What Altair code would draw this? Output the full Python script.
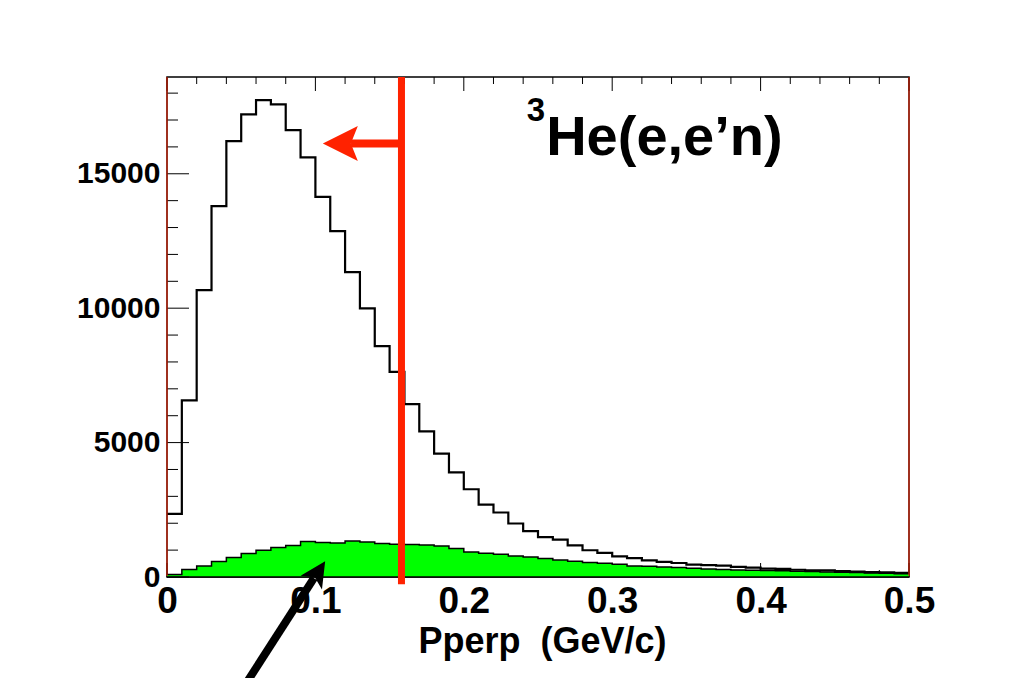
import altair as alt
import numpy as np
import pandas as pd

# ---- data ----
bin_edges = np.round(np.arange(51) * 0.01, 2)  # 50 bins, width 0.01 GeV/c
all_counts = [2350, 6570, 10670, 13800, 16215, 17210, 17740, 17580, 16625, 15610,
              14140, 12870, 11340, 9990, 8590, 7630, 6430, 5420, 4590, 3890,
              3265, 2695, 2400, 1990, 1710, 1480, 1390, 1180, 995, 895,
              770, 705, 620, 560, 520, 460, 440, 425, 375, 350,
              315, 305, 270, 250, 245, 215, 200, 180, 175, 155]
green_counts = [90, 275, 410, 573, 722, 871, 994, 1094, 1169, 1318,
                1280, 1265, 1340, 1303, 1243, 1217, 1210, 1190, 1154, 1057,
                930, 882, 845, 782, 744, 685, 633, 584, 536, 510,
                473, 409, 398, 372, 350, 324, 300, 275, 265, 250,
                240, 230, 215, 200, 190, 178, 165, 150, 140, 125]

x_tick_labels = [0, 0.1, 0.2, 0.3, 0.4, 0.5]
x_minor_ticks = [0.02, 0.04, 0.06, 0.08, 0.12, 0.14, 0.16, 0.18, 0.22, 0.24, 0.26, 0.28,
                 0.32, 0.34, 0.36, 0.38, 0.42, 0.44, 0.46, 0.48]
y_tick_labels = [0, 5000, 10000, 15000]
y_minor_ticks = [1000, 2000, 3000, 4000, 6000, 7000, 8000, 9000, 11000, 12000, 13000,
                 14000, 16000, 17000, 18000]

cut_value = 0.158          # red cut line
red_arrow_x = [0.158, 0.124]
red_arrow_y = 16130
red_head = [0.1168, 16130]
black_arrow = [0.0505, -4200, 0.0990, -40]
black_head = [0.1019, 190]

title_main = "He(e,e\u2019n)"
title_sup = "3"
title_pos = [0.2555, 15694]
sup_pos = [0.2425, 16960]

FONT = "Liberation Sans"
RED = "#ff2200"
GREEN = "#00ff00"

hist = pd.DataFrame({
    "x": bin_edges,
    "all": all_counts + [all_counts[-1]],
    "green": green_counts + [green_counts[-1]],
})

xs = alt.Scale(domain=[0, 0.5], nice=False, zero=False)
ys = alt.Scale(domain=[0, 18600], nice=False)

x_axis = alt.Axis(values=x_tick_labels, labelExpr="datum.value == 0 ? '0' : format(datum.value, '.1f')",
                  labelFont=FONT, labelFontSize=37, labelFontWeight="bold", labelColor="black",
                  labelPadding=24, labelBaseline="middle", labelFlush=False, labelOverlap=False,
                  ticks=False, tickSize=0, domain=False, grid=False,
                  title="Pperp\u00a0 (GeV/c)", titleFont=FONT, titleFontSize=36, titleFontWeight="bold",
                  titleColor="black", titleY=64, titleX=375, titleBaseline="middle", titleAlign="center")
y_axis = alt.Axis(values=y_tick_labels, format="d",
                  labelFont=FONT, labelFontSize=30, labelFontWeight="bold", labelColor="black",
                  labelPadding=7, labelBaseline="middle", labelFlush=False, labelOverlap=False,
                  ticks=False, tickSize=0, domain=False, grid=False, title="")


def X(f):
    return alt.X(f, type="quantitative", scale=xs, axis=x_axis)


def Y(f):
    return alt.Y(f, type="quantitative", scale=ys, axis=y_axis)


base = alt.Chart(hist)

# bottom ticks (under the green fill)
bt_major = alt.Chart(pd.DataFrame({"v": x_tick_labels})).mark_rule(color="black", strokeWidth=1).encode(
    x=X("v"), y=alt.value(500), y2=alt.value(486))
bt_minor = alt.Chart(pd.DataFrame({"v": x_minor_ticks})).mark_rule(color="black", strokeWidth=1).encode(
    x=X("v"), y=alt.value(500), y2=alt.value(493))

green_area = base.mark_area(interpolate="step-after", color=GREEN, opacity=1).encode(
    x=X("x"), y=Y("green"))
green_line = base.mark_line(interpolate="step-after", color="black", strokeWidth=1.5).encode(
    x=X("x"), y=Y("green"))
all_line = base.mark_line(interpolate="step-after", color="black", strokeWidth=2.2).encode(
    x=X("x"), y=Y("all"))

# top ticks
tt_major = alt.Chart(pd.DataFrame({"v": x_tick_labels})).mark_rule(color="black", strokeWidth=1).encode(
    x=X("v"), y=alt.value(0), y2=alt.value(14))
tt_minor = alt.Chart(pd.DataFrame({"v": x_minor_ticks})).mark_rule(color="black", strokeWidth=1).encode(
    x=X("v"), y=alt.value(0), y2=alt.value(7))
# left ticks
lt_major = alt.Chart(pd.DataFrame({"v": y_tick_labels})).mark_rule(color="black", strokeWidth=1).encode(
    y=Y("v"), x=alt.value(0), x2=alt.value(22))
lt_minor = alt.Chart(pd.DataFrame({"v": y_minor_ticks})).mark_rule(color="black", strokeWidth=1).encode(
    y=Y("v"), x=alt.value(0), x2=alt.value(11))

# bottom frame line on top of fill
bottom_line = alt.Chart(pd.DataFrame({"a": [0], "b": [0.5], "y": [0]})).mark_rule(
    color="black", strokeWidth=1.5).encode(x=X("a"), x2="b:Q", y=Y("y"))
# thin red inner edges
red_edges = alt.Chart(pd.DataFrame({"v": [0, 0.5], "off": [1.2, -1.2]})).mark_rule(
    color=RED, strokeWidth=1).encode(
    x=X("v"), xOffset=alt.XOffset("off:Q", scale=None),
    y=alt.value(0), y2=alt.value(499))

cut = alt.Chart(pd.DataFrame({"x": [cut_value], "y1": [18600], "y2": [-270]})).mark_rule(
    color=RED, strokeWidth=7).encode(x=X("x"), y=Y("y1"), y2="y2:Q")
red_shaft = alt.Chart(pd.DataFrame({"a": [red_arrow_x[0]], "b": [red_arrow_x[1]], "y": [red_arrow_y]})).mark_rule(
    color=RED, strokeWidth=8).encode(x=X("a"), x2="b:Q", y=Y("y"))
red_tip = alt.Chart(pd.DataFrame({"x": [red_head[0]], "y": [red_head[1]]})).mark_point(
    shape="M -1 0 L 1 -1 L 0.6 0 L 1 1 Z", size=1225, filled=True, color=RED, opacity=1, strokeWidth=0).encode(
    x=X("x"), y=Y("y"))

blk_shaft = alt.Chart(pd.DataFrame({"a": [black_arrow[0]], "ya": [black_arrow[1]],
                                    "b": [black_arrow[2]], "yb": [black_arrow[3]]})).mark_rule(
    color="black", strokeWidth=8).encode(x=X("a"), y=Y("ya"), x2="b:Q", y2="yb:Q")
blk_tip = alt.Chart(pd.DataFrame({"x": [black_head[0]], "y": [black_head[1]]})).mark_point(
    shape="M 0 -1 L 1 1 L 0 0.5 L -1 1 Z", size=650, filled=True, color="black", opacity=1,
    strokeWidth=0, angle=33).encode(x=X("x"), y=Y("y"))

title1 = alt.Chart(pd.DataFrame({"x": [title_pos[0]], "y": [title_pos[1]], "t": [title_main]})).mark_text(
    font=FONT, fontSize=56, fontWeight="bold", color="black", align="left", baseline="alphabetic").encode(
    x=X("x"), y=Y("y"), text="t:N")
title2 = alt.Chart(pd.DataFrame({"x": [sup_pos[0]], "y": [sup_pos[1]], "t": [title_sup]})).mark_text(
    font=FONT, fontSize=33, fontWeight="bold", color="black", align="left", baseline="alphabetic").encode(
    x=X("x"), y=Y("y"), text="t:N")

chart = alt.layer(
    bt_major, bt_minor, green_area, green_line, all_line,
    tt_major, tt_minor, lt_major, lt_minor, bottom_line, red_edges,
    cut, red_shaft, red_tip, title1, title2, blk_shaft, blk_tip
).properties(
    width=742, height=500,
    autosize=alt.AutoSizeParams(type="none"),
    padding={"left": 167, "top": 77, "right": 101, "bottom": 101},
    background="white",
).configure_view(stroke="black", strokeWidth=1.5)

chart.save("out.html", embed_options={"renderer": "svg", "actions": False})
